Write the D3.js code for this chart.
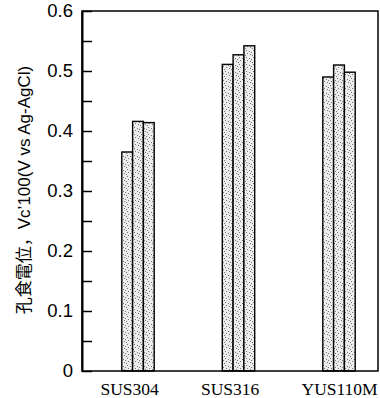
<!DOCTYPE html>
<html>
<head>
<meta charset="utf-8">
<script src="https://cdn.jsdelivr.net/npm/d3@7"></script>
<style>
  body { margin: 0; background: #fff; }
  svg { display: block; }
</style>
</head>
<body>
<div id="chart"></div>
<script>
// steels and the three measured values for each
var steels = ["SUS304", "SUS316", "YUS110M"];
var runs = [0, 1, 2];
var run1 = [0.365, 0.511, 0.490];
var run2 = [0.416, 0.527, 0.510];
var run3 = [0.414, 0.542, 0.498];
var y_ticks = [0, 0.05, 0.1, 0.15, 0.2, 0.25, 0.3, 0.35, 0.4, 0.45, 0.5, 0.55, 0.6];
var y_title = "孔食電位，Vc’100(V vs Ag-AgCl)";

var width = 380, height = 398;
var plot = {left: 82, right: 378, top: 11, bottom: 371};

var svg = d3.select("#chart")
    .append("svg")
    .attr("width", width)
    .attr("height", height);

// stipple fill for the bars
var pat = svg.append("defs")
    .append("pattern")
    .attr("id", "dots")
    .attr("patternUnits", "userSpaceOnUse")
    .attr("width", 7)
    .attr("height", 7);
pat.append("rect").attr("width", 7).attr("height", 7).attr("fill", "#ececec");
[[1, 1], [4, 2], [2, 4], [5, 5], [0, 6], [6, 3]].forEach(function(p) {
    pat.append("rect")
	.attr("x", p[0]).attr("y", p[1])
	.attr("width", 1).attr("height", 1)
	.attr("fill", "#777");
});

var scale_y = d3.scaleLinear()
    .domain([0, 0.6])
    .range([plot.bottom, plot.top]);

var scale_x = d3.scalePoint()
    .domain(steels)
    .range([138, 339]);

var scale_run = d3.scaleBand()
    .domain(runs)
    .range([-16.2, 16.2]);

var data = [];
steels.forEach(function(s, i) {
    [run1, run2, run3].forEach(function(arr, j) {
	data.push({steel: s, run: j, v: arr[i]});
    });
});

// bars
svg.append("g")
    .selectAll("rect")
    .data(data)
    .enter()
    .append("rect")
    .attr("x", function(d) { return scale_x(d.steel) + scale_run(d.run); })
    .attr("y", function(d) { return scale_y(d.v); })
    .attr("width", scale_run.bandwidth())
    .attr("height", function(d) { return plot.bottom - scale_y(d.v); })
    .attr("fill", "url(#dots)")
    .attr("stroke", "#000")
    .attr("stroke-width", 1.4);

// frame
svg.append("rect")
    .attr("x", plot.left)
    .attr("y", plot.top)
    .attr("width", plot.right - plot.left)
    .attr("height", plot.bottom - plot.top)
    .attr("fill", "none")
    .attr("stroke", "#000")
    .attr("stroke-width", 1.5);

// y axis, ticks pointing inward
var yaxis = svg.append("g")
    .attr("transform", "translate(" + plot.left + ",0)")
    .call(d3.axisLeft(scale_y)
	  .tickValues(y_ticks)
	  .tickSizeInner(-10)
	  .tickSizeOuter(0)
	  .tickPadding(9)
	  .tickFormat(function(d) {
	      var r = Math.round(d * 100);
	      if (r % 10 != 0) return "";
	      return r == 0 ? "0" : d3.format(".1f")(d);
	  }));
yaxis.select(".domain").attr("stroke-width", 2);
yaxis.selectAll(".tick line").attr("stroke-width", 1.5);
yaxis.selectAll("text")
    .attr("font-family", "'Liberation Sans', Arial, sans-serif")
    .attr("font-size", 18.5)
    .attr("fill", "#000");

// category labels
var xaxis = svg.append("g")
    .attr("transform", "translate(0," + plot.bottom + ")")
    .call(d3.axisBottom(scale_x).tickSize(0).tickPadding(0));
xaxis.select(".domain").remove();
xaxis.selectAll("text")
    .attr("y", 24)
    .attr("dy", 0)
    .attr("dx", -38)
    .attr("text-anchor", "start")
    .attr("font-family", "'Liberation Serif', 'Times New Roman', serif")
    .attr("font-size", 17.5)
    .attr("fill", "#000");

// y title
svg.append("text")
    .attr("transform", "translate(24,190) rotate(-90)")
    .attr("text-anchor", "middle")
    .attr("dominant-baseline", "central")
    .attr("font-family", "'Liberation Sans', 'Noto Sans CJK JP', sans-serif")
    .attr("font-size", 17)
    .attr("fill", "#000")
    .text(y_title);
</script>
</body>
</html>
